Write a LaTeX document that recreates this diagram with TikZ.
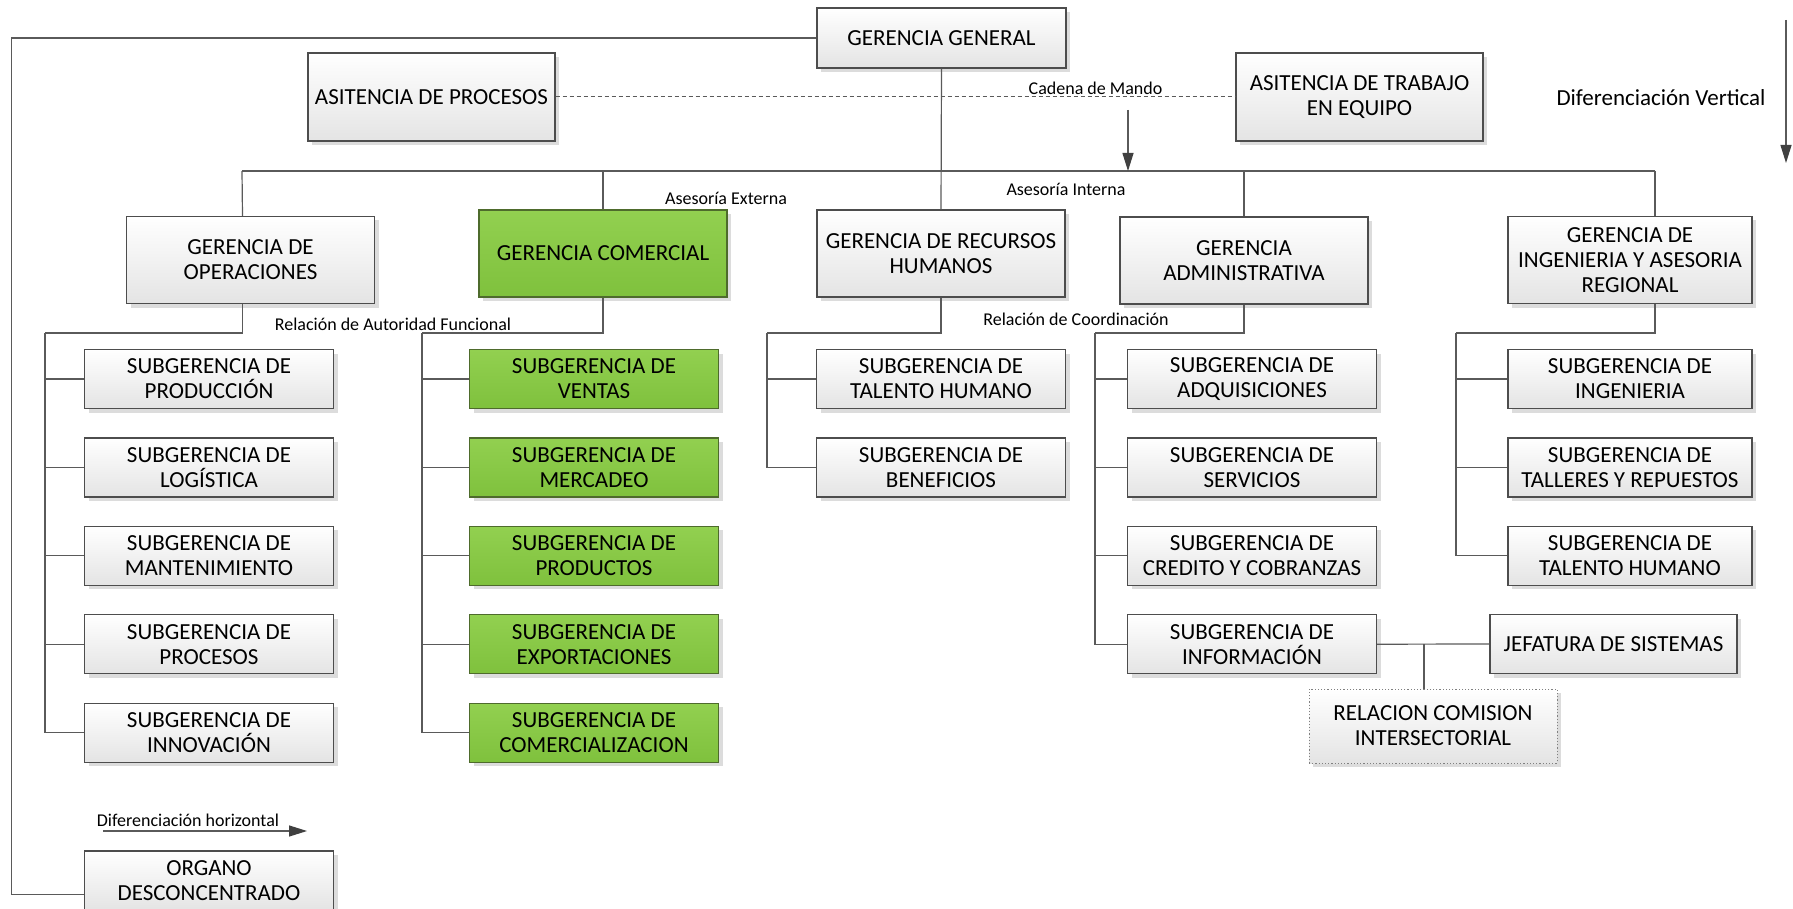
\documentclass[tikz,border=0pt]{standalone}
\usepackage{fontspec}
\setmainfont{Carlito}
\usetikzlibrary{arrows.meta,shadows}

\definecolor{linegray}{HTML}{5A5A5A}
\definecolor{boxline}{HTML}{4D4D4D}
\definecolor{boxbot}{HTML}{E4E4E4}
\definecolor{grtop}{HTML}{92D050}
\definecolor{grbot}{HTML}{7FC13D}
\definecolor{grline}{HTML}{4E6B2C}
\definecolor{shadowgray}{HTML}{DCDCDC}
\definecolor{tipgray}{HTML}{404040}

\newcommand\boxfont{\fontsize{23}{25}\selectfont}
\newcommand\lblfont{\fontsize{18}{20}\selectfont}

\tikzset{
  unit/.style={rectangle, draw=boxline, line width=1.2pt, align=center, inner sep=2pt,
    font=\boxfont, top color=white, bottom color=boxbot,
    drop shadow={shadow xshift=4pt, shadow yshift=-4pt, fill=shadowgray, opacity=1}},
  subunit/.style={unit, minimum width=249pt, minimum height=59pt},
  mainunit/.style={unit, minimum width=248pt, minimum height=87pt},
  greenunit/.style={top color=grtop, bottom color=grbot, draw=grline},
  conn/.style={draw=linegray, line width=1.2pt},
  tip/.style={conn, -{Triangle[length=18pt,width=11pt,color=tipgray]}},
  lbl/.style={font=\lblfont, inner sep=0pt},
}

\begin{document}
\begin{tikzpicture}[x=1pt,y=-1pt]
\useasboundingbox (0,0) rectangle (1793,909);

% Top level
\node[unit, minimum width=249pt, minimum height=60pt] (gg) at (941.5,38) {GERENCIA GENERAL};
\node[unit, minimum width=247pt, minimum height=88pt] (ap) at (431.5,97) {ASITENCIA DE PROCESOS};
\node[unit, minimum width=247pt, minimum height=88pt] (ate) at (1359.5,97) {ASITENCIA DE TRABAJO\\EN EQUIPO};

% Gerencias
\node[mainunit] (gop) at (250.5,260) {GERENCIA DE\\OPERACIONES};
\node[mainunit, greenunit] (gcom) at (603,253.5) {GERENCIA COMERCIAL};
\node[mainunit] (grh) at (941,253.5) {GERENCIA DE RECURSOS\\HUMANOS};
\node[mainunit] (gadm) at (1244,260.5) {GERENCIA\\ADMINISTRATIVA};
\node[mainunit, minimum width=244pt] (ging) at (1630,260) {GERENCIA DE\\INGENIERIA Y ASESORIA\\REGIONAL};

% Labels
\node[lbl] (cadena) at (1095.5,88) {Cadena de Mando};
\node[lbl] (aext) at (726,198) {Asesoría Externa};
\node[lbl] (aint) at (1066,189) {Asesoría Interna};
\node[lbl] (raf) at (393,324) {Relación de Autoridad Funcional};
\node[lbl] (rcoord) at (1076,319) {Relación de Coordinación};
\node[lbl, font=\boxfont] (dvert) at (1661,98) {Diferenciación Vertical};
\node[lbl] (dhor) at (188,820) {Diferenciación horizontal};

% Chain of command
\draw[conn] (gg.south) -- (grh.north);
\draw[conn, dash pattern=on 4pt off 3pt, line width=1pt] (ap.east) -- (ate.west);
\coordinate (busL) at (242,171);
\coordinate (busR) at (1655,171);
\draw[conn] (busL) -- (busR);
\draw[conn] (busL) -- ([xshift=-8pt]gop.north);
\draw[conn] (gcom.north |- busL) -- (gcom.north);
\draw[conn] (gadm.north |- busL) -- (gadm.north);
\draw[conn] (busR) -- ([xshift=25pt]ging.north);

% Arrows
\coordinate (cmd) at (1128,110);
\draw[tip] (cmd) -- (cmd |- busL);
\coordinate (dvtop) at (1786,20);
\coordinate (dvbot) at (1786,163);
\draw[tip] (dvtop) -- (dvbot);
\coordinate (dhl) at (103,831);
\coordinate (dhr) at (307,831);
\draw[tip] (dhl) -- (dhr);

% Operaciones
\draw[conn] ([xshift=-8pt]gop.south) |- (45,333);
\foreach \nm/\txt [count=\i] in {prod/PRODUCCIÓN, logi/LOGÍSTICA, mant/MANTENIMIENTO, proc/PROCESOS, innov/INNOVACIÓN}{
  \node[subunit] (\nm) at (209,{379+88.4*(\i-1)}) {SUBGERENCIA DE\\\txt};
  \draw[conn] (45,333) |- (\nm.west);
}

% Comercial
\draw[conn] (gcom.south) |- (422,333);
\foreach \nm/\txt [count=\i] in {vent/VENTAS, merc/MERCADEO, prodt/PRODUCTOS, expo/EXPORTACIONES, comz/COMERCIALIZACION}{
  \node[subunit, greenunit] (\nm) at (594,{379+88.4*(\i-1)}) {SUBGERENCIA DE\\\txt};
  \draw[conn] (422,333) |- (\nm.west);
}

% Recursos humanos
\draw[conn] (grh.south) |- (767,333);
\foreach \nm/\txt [count=\i] in {talh/TALENTO HUMANO, bene/BENEFICIOS}{
  \node[subunit] (\nm) at (941,{379+88.4*(\i-1)}) {SUBGERENCIA DE\\\txt};
  \draw[conn] (767,333) |- (\nm.west);
}

% Administrativa
\draw[conn] (gadm.south) |- (1095,333);
\foreach \nm/\txt [count=\i] in {adq/ADQUISICIONES, serv/SERVICIOS, cred/CREDITO Y COBRANZAS, info/INFORMACIÓN}{
  \node[subunit] (\nm) at (1252,{379+88.4*(\i-1)}) {SUBGERENCIA DE\\\txt};
  \draw[conn] (1095,333) |- (\nm.west);
}

% Ingenieria
\draw[conn] ([xshift=25pt]ging.south) |- (1456,333);
\foreach \nm/\txt [count=\i] in {inge/INGENIERIA, tall/TALLERES Y REPUESTOS, talt/TALENTO HUMANO}{
  \node[subunit, minimum width=244pt] (\nm) at (1630,{379+88.4*(\i-1)}) {SUBGERENCIA DE\\\txt};
  \draw[conn] (1456,333) |- (\nm.west);
}

% Sistemas y comision
\node[subunit, minimum width=247pt] (jef) at (1613.5,644) {JEFATURA DE SISTEMAS};
\node[subunit, minimum width=248pt, minimum height=74pt, draw=gray, dotted, line width=1pt] (rel) at (1433,726) {RELACION COMISION\\INTERSECTORIAL};
\draw[conn] (info.east) -- (jef.west);
\draw[conn] ([xshift=-9pt]rel.north) -- ([xshift=-9pt]rel.north |- info.east);

% Organo desconcentrado
\node[subunit] (organo) at (209,880.5) {ORGANO\\DESCONCENTRADO};
\draw[conn] (gg.west) -- (11.5,38) |- ([yshift=-14pt]organo.west);
\end{tikzpicture}
\end{document}
